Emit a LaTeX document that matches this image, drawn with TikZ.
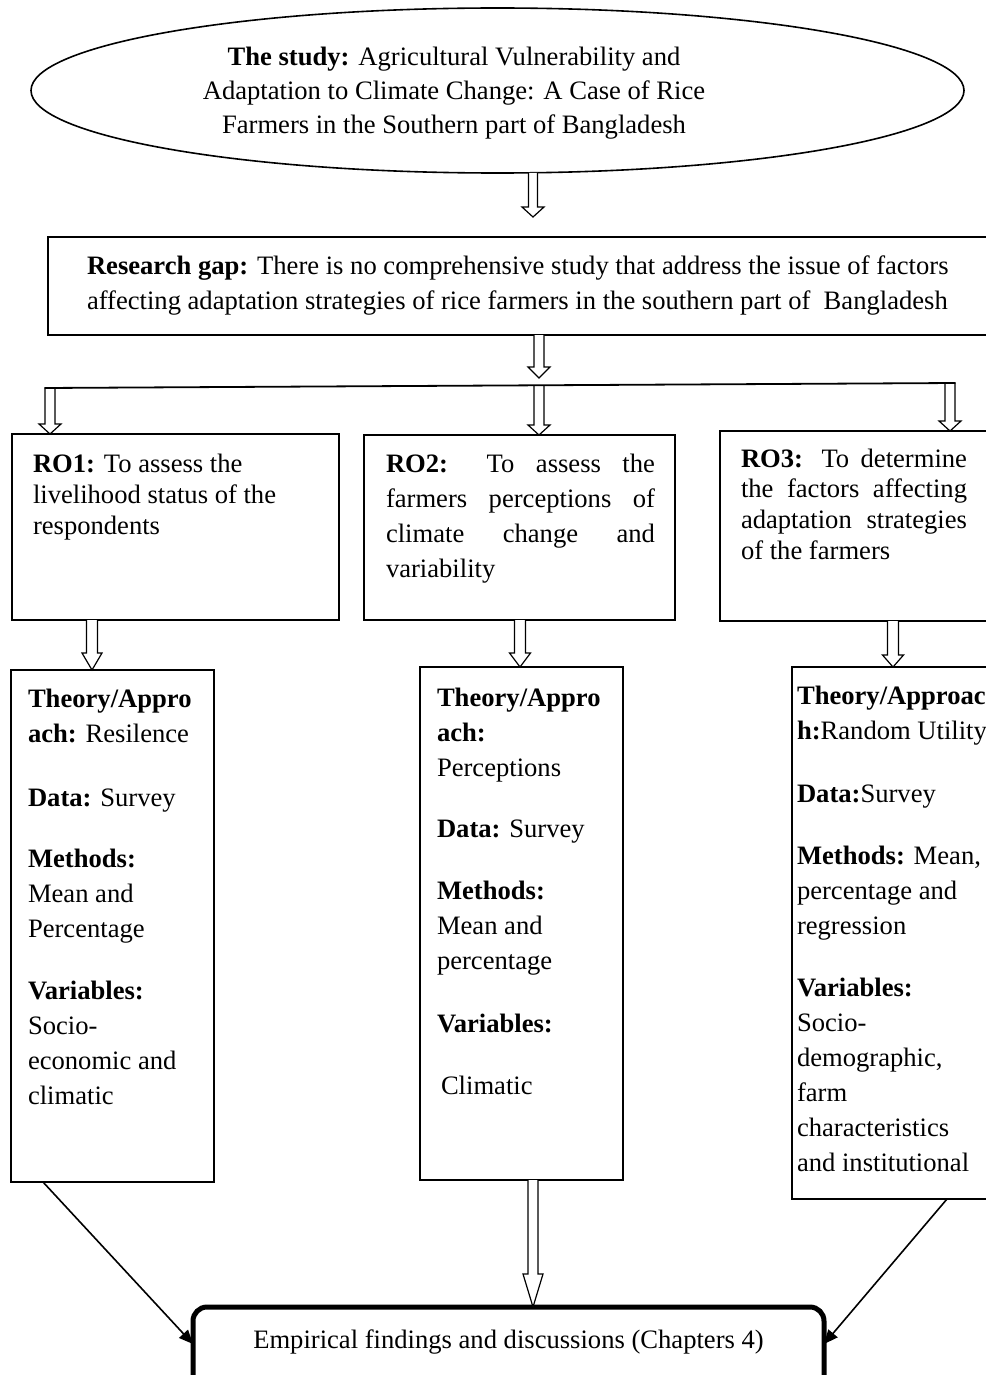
\documentclass[tikz,border=0pt]{standalone}
\usepackage{fontspec}
\setmainfont{Liberation Serif}
\usetikzlibrary{shapes.geometric,arrows.meta,calc}
\newcommand\fr{\rule{0pt}{20pt}}
\newcommand\harrowpath[5]{%
  \draw[harrow] let \p1=(#1), \p2=(#2) in
    (\x1-#3,\y1) -- (\x1-#3,\y2+#5) -- (\x1-#4,\y2+#5) -- (\x1,\y2) --
    (\x1+#4,\y2+#5) -- (\x1+#3,\y2+#5) -- (\x1+#3,\y1);}
\begin{document}
\begin{tikzpicture}[x=1pt,y=-1pt,
  every node/.style={inner sep=0pt,outer sep=0pt},
  bx/.style={draw,line width=1.6pt,anchor=north west,rectangle},
  txt/.style={anchor=north west,align=left,font=\fontsize{26.6}{31}\selectfont},
  harrow/.style={draw,line width=1.2pt,fill=white,line join=miter},
  conn/.style={line width=1.6pt,-{Triangle[length=14pt,width=12pt]}}]
\useasboundingbox (0,0) rectangle (985,1375);

% top ellipse
\node[draw,ellipse,line width=1.6pt,minimum width=933pt,minimum height=165pt] (study) at (497.5,90.5) {};
\node[txt,anchor=north,align=center,font=\fontsize{26.6}{34}\selectfont] (studytxt) at (454,46)
 {\fr\textbf{The study:} Agricultural Vulnerability and\\Adaptation to Climate Change: A Case of Rice\\Farmers in the Southern part of Bangladesh};

% research gap
\node[bx,minimum width=940pt,minimum height=98pt] (gap) at (48,237) {};
\node[txt,font=\fontsize{26.6}{35}\selectfont] (gaptxt) at (87,254)
 {\fr\textbf{Research gap:} There is no comprehensive study that address the issue of factors\\affecting adaptation strategies of rice farmers in the southern part of\ \ Bangladesh};

% research objectives
\node[bx,minimum width=327pt,minimum height=186pt] (ro1) at (12,434) {};
\node[txt] (ro1txt) at (33,452)
 {\fr\textbf{RO1:} To assess the\\livelihood status of the\\respondents};
\node[bx,minimum width=311pt,minimum height=185pt] (ro2) at (364,435) {};
\node[txt,font=\fontsize{26.6}{35.3}\selectfont] (ro2txt) at (386,452)
 {\fr\makebox[269pt][s]{\textbf{RO2:} To assess the}\\\makebox[269pt][s]{farmers perceptions of}\\\makebox[269pt][s]{climate change and}\\variability};
\node[bx,minimum width=275pt,minimum height=190pt] (ro3) at (720,431) {};
\node[txt,font=\fontsize{26.6}{30.7}\selectfont] (ro3txt) at (741,447)
 {\fr\makebox[226pt][s]{\textbf{RO3:} To determine}\\\makebox[226pt][s]{the factors affecting}\\\makebox[226pt][s]{adaptation strategies}\\of the farmers};

% theory boxes
\node[bx,minimum width=203pt,minimum height=512pt] (t1) at (11,670) {};
\node[txt,font=\fontsize{26.6}{35}\selectfont] (t1txt) at (28,687)
 {\fr\textbf{Theory/Appro}\\\textbf{ach:} Resilence\\[29pt]\textbf{Data:} Survey\\[26pt]\textbf{Methods:}\\Mean and\\Percentage\\[27pt]\textbf{Variables:}\\Socio-\\economic and\\climatic};
\node[bx,minimum width=203pt,minimum height=513pt] (t2) at (420,667) {};
\node[txt,font=\fontsize{26.6}{35}\selectfont] (t2txt) at (437,686)
 {\fr\textbf{Theory/Appro}\\\textbf{ach:}\\Perceptions\\[26pt]\textbf{Data:} Survey\\[27pt]\textbf{Methods:}\\Mean and\\percentage\\[28pt]\textbf{Variables:}\\[27pt]\hspace*{4pt}Climatic};
\node[bx,minimum width=205pt,minimum height=532pt] (t3) at (792,667) {};
\node[txt,font=\fontsize{26.6}{35}\selectfont] (t3txt) at (797,684)
 {\fr\textbf{Theory/Approac}\\\textbf{h:}Random Utility\\[28pt]\textbf{Data:}Survey\\[27pt]\textbf{Methods:} Mean,\\percentage and\\regression\\[27pt]\textbf{Variables:}\\Socio-\\demographic,\\farm\\characteristics\\and institutional};

% final box
\node[bx,line width=5pt,rounded corners=14pt,minimum width=631pt,minimum height=95pt] (fin) at (193,1307) {};
\node[anchor=base,font=\fontsize{26.6}{31}\selectfont] (fintxt) at (508.5,1348)
 {Empirical findings and discussions (Chapters 4)};

% hollow arrows
\coordinate (cA) at (533,217);
\harrowpath{study.south -| cA}{cA}{4.5pt}{11pt}{10pt}
\coordinate (cB) at (539,378);
\harrowpath{gap.south -| cB}{cB}{5pt}{11pt}{11pt}
\coordinate (s1) at (50,388);
\coordinate (s2) at (539,385.3);
\coordinate (s3) at (950,383.3);
\harrowpath{s1}{ro1.north -| s1}{5pt}{11pt}{10pt}
\harrowpath{s2}{ro2.north -| s2}{5pt}{11pt}{10pt}
\harrowpath{s3}{ro3.north -| s3}{5pt}{11pt}{10pt}
\coordinate (sL) at (44.5,388);
\coordinate (sR) at (955.5,383);
\draw[line width=1.8pt] (sL) -- (sR);

\coordinate (x1) at (92,0);
\harrowpath{ro1.south -| x1}{t1.north -| x1}{5.5pt}{10pt}{17pt}
\coordinate (x2) at (520,0);
\harrowpath{ro2.south -| x2}{t2.north -| x2}{5.5pt}{10.5pt}{14pt}
\coordinate (x3) at (893,0);
\harrowpath{ro3.south -| x3}{t3.north -| x3}{5.5pt}{10.5pt}{12pt}
\coordinate (x4) at (533,0);
\harrowpath{t2.south -| x4}{fin.north -| x4}{5pt}{10pt}{33pt}

% converging connectors
\coordinate (xl) at (43,0);
\coordinate (xr) at (947,0);
\draw[conn] (t1.south -| xl) -- ($(fin.north west)+(0,37)$);
\draw[conn] (t3.south -| xr) -- ($(fin.north east)+(0,37)$);
\end{tikzpicture}
\end{document}
